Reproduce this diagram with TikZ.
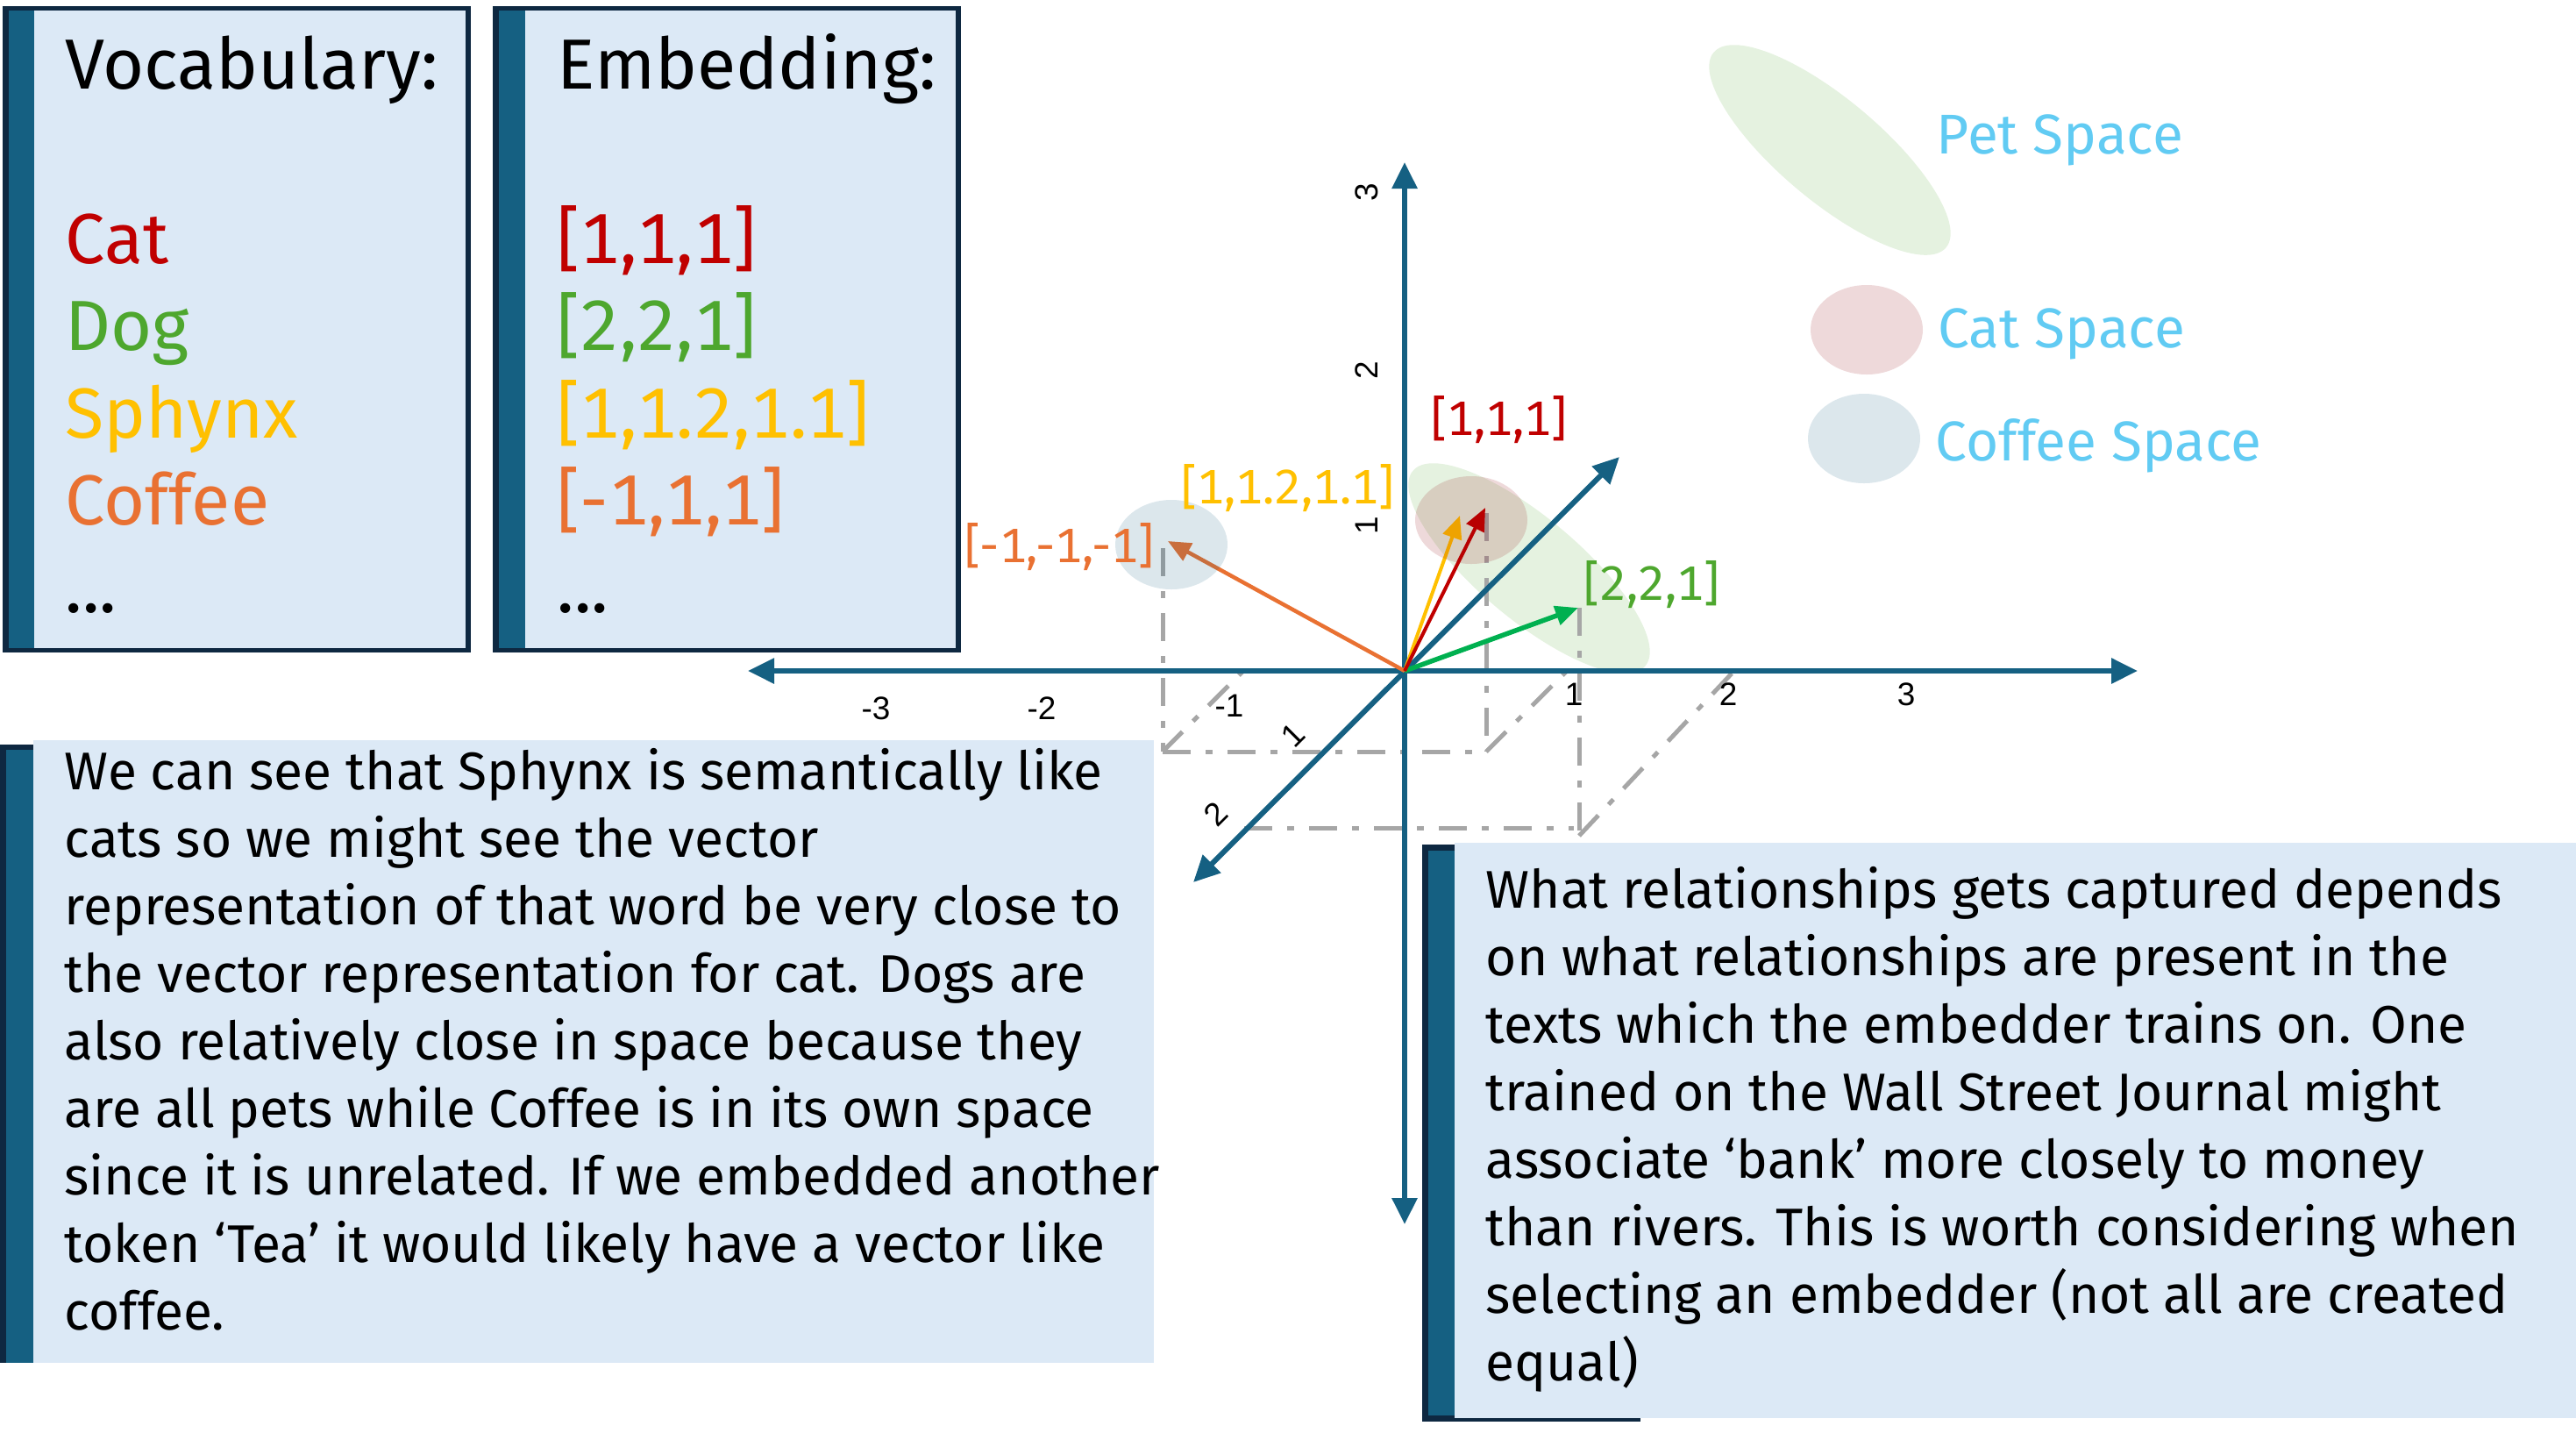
\documentclass[tikz,border=0pt]{standalone}
\usepackage{fontspec}
\setmainfont{Fira Sans}[Numbers=Monospaced]
\newfontfamily\tickfont{Liberation Sans}
\usetikzlibrary{arrows.meta}
\definecolor{navy}{HTML}{0E2841}
\definecolor{barteal}{HTML}{156082}
\definecolor{boxfill}{HTML}{DCE9F6}
\definecolor{axisblue}{HTML}{156082}
\definecolor{catred}{HTML}{C00000}
\definecolor{catdark}{HTML}{8E0208}
\definecolor{doggreen}{HTML}{4EA72E}
\definecolor{dogvec}{HTML}{00B050}
\definecolor{sphyellow}{HTML}{FFC000}
\definecolor{cofforange}{HTML}{E97132}
\definecolor{legendblue}{HTML}{61CBF3}
\definecolor{dashgray}{HTML}{A6A6A6}
\tikzset{
  axisline/.style={draw=axisblue, line width=0.06cm, {Triangle[length=0.3cm,width=0.28cm]}-{Triangle[length=0.3cm,width=0.28cm]}},
  vecline/.style={line width=0.045cm, -{Triangle[length=0.26cm,width=0.22cm]}},
  guideline/.style={draw=dashgray, line width=0.05cm, dash pattern=on 0.32cm off 0.17cm on 0.08cm off 0.17cm},
  ticklabel/.style={font=\tickfont\fontsize{10.5}{12}\selectfont, inner sep=0},
  veclabel/.style={font=\fontsize{15.7}{18}\selectfont, inner sep=0},
  legendtext/.style={font=\fontsize{18.2}{22}\selectfont, text=legendblue, anchor=base west, inner sep=0},
  boxtext/.style={font=\fontsize{23}{28.3}\selectfont, anchor=base west, align=left, inner sep=0},
  bodytext/.style={font=\fontsize{17.2}{21.9}\selectfont, anchor=base west, align=left, inner sep=0},
  petspace/.style={fill=doggreen, fill opacity=0.15},
  catspace/.style={fill=catdark, fill opacity=0.15},
  coffeespace/.style={fill=barteal, fill opacity=0.15},
}
\begin{document}
\begin{tikzpicture}
\useasboundingbox (0,0) rectangle (29.38,-16.33);

% ---- text boxes ----
\fill[navy] (0.03,-0.07) rectangle (5.37,-7.44);
\fill[boxfill] (0.10,-0.12) rectangle (5.31,-7.39);
\fill[barteal] (0.10,-0.12) rectangle (0.39,-7.39);

\fill[navy] (5.62,-0.07) rectangle (10.96,-7.44);
\fill[boxfill] (5.69,-0.12) rectangle (10.90,-7.39);
\fill[barteal] (5.69,-0.12) rectangle (5.99,-7.39);

\fill[navy] (0,-8.49) rectangle (0.38,-15.54);
\fill[barteal] (0.07,-8.55) rectangle (0.38,-15.54);
\fill[boxfill] (0.38,-8.44) rectangle (13.16,-15.54);

\fill[navy] (16.22,-9.63) rectangle (18.71,-16.21);
\fill[barteal] (16.29,-9.70) rectangle (16.59,-16.14);
\fill[boxfill] (16.59,-9.61) rectangle (29.38,-16.17);

% multi-line nodes: base anchor = baseline of the last line
\node[boxtext] (vocab) at (0.74,-6.98) {Vocabulary:\\ \strut\\
  \textcolor{catred}{Cat}\\ \textcolor{doggreen}{Dog}\\ \textcolor{sphyellow}{Sphynx}\\
  \textcolor{cofforange}{Coffee}\\ ...};
\node[boxtext] (embed) at (6.35,-6.98) {Embedding:\\ \strut\\
  \textcolor{catred}{[1,1,1]}\\ \textcolor{doggreen}{[2,2,1]}\\ \textcolor{sphyellow}{[1,1.2,1.1]}\\
  \textcolor{cofforange}{[-1,1,1]}\\ ...};

\node[bodytext] (lefttext) at (0.73,-15.16) {We can see that Sphynx is semantically like\\
cats so we might see the vector\\
representation of that word be very close to\\
the vector representation for cat. Dogs are\\
also relatively close in space because they\\
are all pets while Coffee is in its own space\\
since it is unrelated. If we embedded another\\
token ‘Tea’ it would likely have a vector like\\
coffee.};

\node[bodytext] (righttext) at (16.94,-15.74) {What relationships gets captured depends\\
on what relationships are present in the\\
texts which the embedder trains on. One\\
trained on the Wall Street Journal might\\
associate ‘bank’ more closely to money\\
than rivers. This is worth considering when\\
selecting an embedder (not all are created\\
equal)};

% ---- coordinates ----
\coordinate (O) at (16.02,-7.65);
\coordinate (xL) at (8.53,-7.65);
\coordinate (xR) at (24.38,-7.65);
\coordinate (yT) at (16.02,-1.85);
\coordinate (yB) at (16.02,-13.96);
\coordinate (zF) at (13.61,-10.06);
\coordinate (zB) at (18.47,-5.21);
\coordinate (cofTip) at (13.32,-6.17);
\coordinate (sphTip) at (16.65,-5.88);
\coordinate (catTip) at (16.94,-5.79);
\coordinate (dogTip) at (18.00,-6.93);

\coordinate (gA1) at (13.26,-6.25);
\coordinate (gA2) at (13.26,-8.57);
\coordinate (gA3) at (16.95,-8.57);
\coordinate (gA4) at (14.18,-7.65);
\coordinate (gB1) at (16.95,-5.85);
\coordinate (gB2) at (17.87,-7.65);
\coordinate (gE1) at (18.01,-6.93);
\coordinate (gE2) at (18.01,-9.53);
\coordinate (gF1) at (14.19,-9.44);
\coordinate (gF2) at (17.95,-9.44);
\coordinate (gG2) at (19.75,-7.68);

% ---- pet space ----
\fill[petspace] (17.44,-6.48) ellipse [x radius=1.73cm, y radius=0.58cm, rotate=-40];
\fill[petspace] (20.87,-1.71) ellipse [x radius=1.73cm, y radius=0.58cm, rotate=-40];

% ---- guide lines ----
\draw[guideline] (gA1) -- (gA2);
\draw[guideline] (gA2) -- (gA3);
\draw[guideline] (gA2) -- (gA4);
\draw[guideline] (gB1) -- (gA3);
\draw[guideline] (gA3) -- (gB2);
\draw[guideline] (gE1) -- (gE2);
\draw[guideline] (gF1) -- (gF2);
\draw[guideline] (gE2) -- (gG2);

% ---- axes ----
\draw[axisline] (xL) -- (xR);
\draw[axisline] (yB) -- (yT);
\draw[axisline] (zF) -- (zB);

% ---- vectors ----
\draw[vecline, cofforange] (O) -- (cofTip);
\draw[vecline, dogvec, line width=0.055cm] (O) -- (dogTip);
\draw[vecline, sphyellow, line width=0.04cm] (O) -- (sphTip);
\draw[vecline, catred, line width=0.04cm] (O) -- (catTip);

% ---- cat / coffee spaces ----
\fill[catspace] (16.78,-5.93) ellipse [x radius=0.64cm, y radius=0.50cm];
\fill[catspace] (21.29,-3.76) ellipse [x radius=0.64cm, y radius=0.51cm];
\fill[coffeespace] (13.36,-6.21) ellipse [x radius=0.64cm, y radius=0.51cm];
\fill[coffeespace] (21.26,-5.00) ellipse [x radius=0.64cm, y radius=0.51cm];

% ---- legend ----
\node[legendtext] (petlab) at (22.08,-1.75) {Pet Space};
\node[legendtext] (catlab) at (22.10,-3.96) {Cat Space};
\node[legendtext] (coflab) at (22.07,-5.25) {Coffee Space};

% ---- vector labels ----
\node[veclabel, text=catred] (l111) at (17.10,-4.79) {[1,1,1]};
\node[veclabel, text=sphyellow] (l1211) at (14.69,-5.57) {[1,1.2,1.1]};
\node[veclabel, text=cofforange] (lm111) at (12.08,-6.24) {[-1,-1,-1]};
\node[veclabel, text=doggreen] (l221) at (18.84,-6.67) {[2,2,1]};

% ---- tick labels ----
\node[ticklabel] (xm3) at (9.99,-8.08) {-3};
\node[ticklabel] (xm2) at (11.88,-8.08) {-2};
\node[ticklabel] (xm1) at (14.02,-8.05) {-1};
\node[ticklabel] (xp1) at (17.95,-7.92) {1};
\node[ticklabel] (xp2) at (19.71,-7.92) {2};
\node[ticklabel] (xp3) at (21.74,-7.92) {3};
\node[ticklabel, rotate=90] (yp3) at (15.59,-2.19) {3};
\node[ticklabel, rotate=90] (yp2) at (15.59,-4.22) {2};
\node[ticklabel, rotate=90] (yp1) at (15.59,-5.99) {1};
\node[ticklabel, rotate=45] (zp1) at (14.75,-8.38) {1};
\node[ticklabel, rotate=45] (zp2) at (13.87,-9.28) {2};
\end{tikzpicture}
\end{document}
